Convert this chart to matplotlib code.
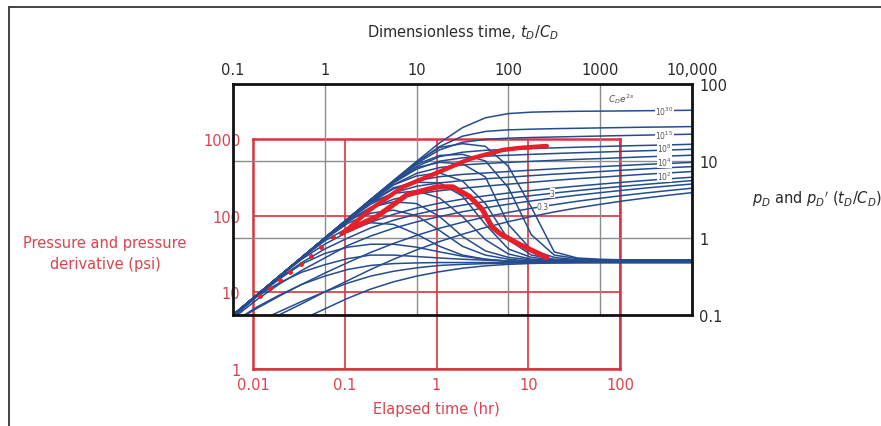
import matplotlib
matplotlib.use("Agg")
import matplotlib.pyplot as plt
from matplotlib.lines import Line2D
from matplotlib.ticker import NullLocator

# ---- type curves (dimensionless) on a quarter-decade grid ----
T_GRID = [0.1, 0.178, 0.316, 0.562, 1, 1.78, 3.16, 5.62, 10, 17.8, 31.6, 56.2,
          100, 178, 316, 562, 1000, 1780, 3160, 5620, 10000]

# pressure curves, C_D e^2s = 1e30 ... 0.1
P_1e30 = [0.1, 0.178, 0.316, 0.562, 1.0, 1.78, 3.16, 5.59, 9.89, 17.2, 27.1, 36.4, 41.3, 43.1, 43.8, 44.2, 44.45, 44.7, 45.0, 45.3, 45.6]
P_1e20 = [0.1, 0.178, 0.316, 0.562, 1.0, 1.78, 3.16, 5.56, 9.61, 15.4, 21.0, 24.2, 25.4, 25.9, 26.3, 26.6, 26.9, 27.2, 27.5, 27.7, 28.0]
P_1e15 = [0.1, 0.178, 0.316, 0.562, 1.0, 1.78, 3.15, 5.51, 9.28, 13.96, 17.5, 19.1, 19.8, 20.2, 20.5, 20.8, 21.1, 21.4, 21.7, 22.0, 22.3]
P_1e10 = [0.1, 0.178, 0.316, 0.562, 1.0, 1.77, 3.12, 5.36, 8.48, 11.4, 13.0, 13.77, 14.18, 14.5, 14.8, 15.1, 15.4, 15.7, 15.95, 16.2, 16.5]
P_1e8 = [0.1, 0.178, 0.316, 0.562, 1.0, 1.77, 3.10, 5.20, 7.85, 9.95, 11.0, 11.54, 11.89, 12.2, 12.5, 12.8, 13.05, 13.35, 13.6, 13.9, 14.2]
P_1e6 = [0.1, 0.178, 0.316, 0.562, 1.0, 1.76, 3.04, 4.92, 6.91, 8.22, 8.88, 9.29, 9.6, 9.9, 10.2, 10.5, 10.75, 11.05, 11.35, 11.6, 11.9]
P_1e4 = [0.1, 0.178, 0.316, 0.561, 0.993, 1.735, 2.90, 4.35, 5.55, 6.25, 6.70, 6.99, 7.3, 7.6, 7.9, 8.2, 8.45, 8.75, 9.05, 9.3, 9.6]
P_1e3 = [0.1, 0.178, 0.316, 0.560, 0.987, 1.70, 2.74, 3.87, 4.70, 5.2, 5.56, 5.87, 6.15, 6.45, 6.75, 7.0, 7.3, 7.6, 7.9, 8.2, 8.45]
P_1e2 = [0.1, 0.178, 0.315, 0.556, 0.969, 1.62, 2.44, 3.19, 3.73, 4.11, 4.42, 4.72, 5.0, 5.3, 5.6, 5.9, 6.15, 6.45, 6.75, 7.0, 7.3]
P_10 = [0.098, 0.175, 0.31, 0.53, 0.83, 1.2, 1.6, 2.03, 2.45, 2.84, 3.2, 3.53, 3.84, 4.14, 4.43, 4.72, 5.01, 5.3, 5.59, 5.87, 6.16]
P_3 = [0.097, 0.175, 0.3, 0.48, 0.72, 1.0, 1.35, 1.7, 2.04, 2.36, 2.67, 2.97, 3.26, 3.55, 3.84, 4.12, 4.41, 4.7, 4.98, 5.27, 5.56]
P_1 = [0.09, 0.155, 0.25, 0.38, 0.55, 0.8, 1.06, 1.34, 1.62, 1.9, 2.19, 2.47, 2.75, 3.03, 3.31, 3.6, 3.88, 4.17, 4.46, 4.74, 5.03]
P_03 = [0.08, 0.12, 0.175, 0.25, 0.35, 0.48, 0.65, 0.85, 1.08, 1.34, 1.6, 1.88, 2.15, 2.43, 2.71, 3.0, 3.28, 3.57, 3.85, 4.14, 4.43]
P_01 = [0.05, 0.07, 0.1, 0.14, 0.2, 0.28, 0.39, 0.53, 0.7, 0.9, 1.12, 1.37, 1.63, 1.9, 2.18, 2.46, 2.74, 3.03, 3.31, 3.6, 3.88]

# derivative curves, same order
D_1e30 = [0.1, 0.178, 0.316, 0.56, 1.0, 1.77, 3.14, 5.55, 9.6, 15.0, 16.8, 15.5, 8.5, 2.5, 0.66, 0.55, 0.53, 0.52, 0.52, 0.52, 0.52]
D_1e20 = [0.1, 0.178, 0.316, 0.56, 1.0, 1.77, 3.13, 5.5, 9.0, 11.8, 12.2, 10.0, 4.5, 1.1, 0.6, 0.54, 0.52, 0.52, 0.52, 0.52, 0.52]
D_1e15 = [0.1, 0.178, 0.316, 0.56, 1.0, 1.77, 3.1, 5.35, 8.2, 9.6, 9.2, 6.2, 1.5, 0.7, 0.56, 0.52, 0.52, 0.52, 0.52, 0.52, 0.52]
D_1e10 = [0.1, 0.178, 0.316, 0.56, 0.995, 1.76, 3.05, 4.9, 6.4, 7.0, 5.5, 2.8, 0.95, 0.6, 0.53, 0.51, 0.51, 0.51, 0.51, 0.51, 0.51]
D_1e8 = [0.1, 0.178, 0.316, 0.56, 0.997, 1.75, 2.98, 4.5, 5.3, 5.2, 3.5, 1.5, 0.72, 0.56, 0.52, 0.51, 0.51, 0.51, 0.51, 0.51, 0.51]
D_1e6 = [0.1, 0.178, 0.316, 0.56, 0.993, 1.72, 2.9, 3.8, 4.1, 3.3, 1.9, 0.95, 0.62, 0.53, 0.51, 0.51, 0.51, 0.51, 0.51, 0.51, 0.51]
D_1e4 = [0.1, 0.178, 0.316, 0.558, 0.98, 1.66, 2.5, 2.95, 2.8, 1.9, 1.05, 0.68, 0.56, 0.52, 0.5, 0.5, 0.5, 0.5, 0.5, 0.5, 0.5]
D_1e3 = [0.1, 0.178, 0.316, 0.554, 0.96, 1.55, 2.1, 2.3, 1.95, 1.25, 0.78, 0.6, 0.53, 0.5, 0.5, 0.5, 0.5, 0.5, 0.5, 0.5, 0.5]
D_1e2 = [0.1, 0.178, 0.312, 0.545, 0.92, 1.35, 1.58, 1.5, 1.12, 0.78, 0.6, 0.53, 0.5, 0.5, 0.5, 0.5, 0.5, 0.5, 0.5, 0.5, 0.5]
D_10 = [0.095, 0.17, 0.29, 0.46, 0.63, 0.76, 0.83, 0.83, 0.76, 0.66, 0.58, 0.53, 0.5, 0.49, 0.49, 0.49, 0.49, 0.49, 0.49, 0.49, 0.49]
D_3 = [0.093, 0.17, 0.26, 0.36, 0.45, 0.54, 0.6, 0.6, 0.575, 0.55, 0.53, 0.515, 0.5, 0.49, 0.49, 0.49, 0.49, 0.49, 0.49, 0.49, 0.49]
D_1 = [0.08, 0.125, 0.18, 0.25, 0.32, 0.39, 0.44, 0.465, 0.475, 0.48, 0.48, 0.48, 0.48, 0.48, 0.48, 0.48, 0.48, 0.48, 0.48, 0.48, 0.48]
D_03 = [0.06, 0.08, 0.11, 0.15, 0.2, 0.26, 0.32, 0.37, 0.41, 0.44, 0.455, 0.465, 0.472, 0.476, 0.478, 0.48, 0.48, 0.48, 0.48, 0.48, 0.48]
D_01 = [0.035, 0.045, 0.062, 0.087, 0.12, 0.165, 0.217, 0.27, 0.32, 0.365, 0.405, 0.435, 0.455, 0.467, 0.474, 0.478, 0.48, 0.48, 0.48, 0.48, 0.48]

PRESSURE = [P_1e30, P_1e20, P_1e15, P_1e10, P_1e8, P_1e6, P_1e4,
            P_1e3, P_1e2, P_10, P_3, P_1, P_03, P_01]
DERIV = [D_1e30, D_1e20, D_1e15, D_1e10, D_1e8, D_1e6, D_1e4,
         D_1e3, D_1e2, D_10, D_3, D_1, D_03, D_01]

# ---- field data (red), hours vs psi ----
dot_hr = [0.0119, 0.0153, 0.0197, 0.0253, 0.0333, 0.0428, 0.055, 0.0743]
dot_psi = [8.9, 11.3, 14.3, 18.2, 23.7, 30.1, 39.5, 53.4]
press_hr = [0.092, 0.106, 0.188, 0.43, 1.01, 2.31, 5.27, 8.0, 15.9]
press_psi = [58, 65.7, 119.5, 237, 362, 551, 719, 764, 811]
deriv_hr = [0.106, 0.224, 0.475, 1.01, 1.51, 2.31, 3.17, 4.0, 4.96, 8.1, 15.9]
deriv_psi = [64, 97.3, 187, 237, 237, 177, 119.5, 72, 58, 41.9, 28.5]

# ticks
dim_t_ticks = [0.1, 1, 10, 100, 1000, 10000]
dim_t_labels = ["0.1", "1", "10", "100", "1000", "10,000"]
dim_p_ticks = [0.1, 1, 10, 100]
dim_p_labels = ["0.1", "1", "10", "100"]
hr_ticks = [0.01, 0.1, 1, 10, 100]
hr_labels = ["0.01", "0.1", "1", "10", "100"]
psi_ticks = [1, 10, 100, 1000]
psi_labels = ["1", "10", "100", "1000"]

# curve labels: (text, t_D/C_D, p_D)
curve_tags = [(r"$10^{30}$", 5000, 45.3), (r"$10^{15}$", 5000, 22.0),
              (r"$10^{8}$", 5000, 15.0), (r"$10^{4}$", 5000, 9.9),
              (r"$10^{2}$", 5000, 6.5), ("3", 300, 3.84), ("0.3", 238, 2.57)]

BLUE = "#244c8e"
RED_DATA = "#e5202a"
RED_GRID = "#d8343e"
RED_TXT = "#d9434e"
INK = "#2a2a2a"

plt.rcParams["font.family"] = ["DejaVu Sans"]
plt.rcParams["mathtext.fontset"] = "dejavusans"

W, H = 881, 427


def box(x0, y0, x1, y1):
    return [x0 / W, 1 - y1 / H, (x1 - x0) / W, (y1 - y0) / H]


fig = plt.figure(figsize=(W / 100, H / 100), dpi=100)
fig.add_artist(Line2D([9 / W, 1], [1 - 8 / H, 1 - 8 / H], color="#444", lw=1.4))
fig.add_artist(Line2D([9 / W, 9 / W], [0, 1 - 8 / H], color="#444", lw=1.4))

# red (field units) grid, drawn underneath
axr = fig.add_axes(box(253, 140, 620, 370), zorder=1)
axr.set_facecolor("none")
axr.set_xscale("log")
axr.set_yscale("log")
axr.set_xlim(0.01, 100)
axr.set_ylim(1, 1000)
axr.set_xticks(hr_ticks)
axr.set_xticklabels(hr_labels)
axr.set_yticks(psi_ticks)
axr.set_yticklabels(psi_labels)
axr.xaxis.set_minor_locator(NullLocator())
axr.yaxis.set_minor_locator(NullLocator())
axr.tick_params(length=0, labelcolor=RED_TXT, labelsize=10.5)
axr.tick_params(axis="x", pad=6)
axr.tick_params(axis="y", pad=9)
axr.grid(True, color=RED_GRID, lw=1.2)
for s in axr.spines.values():
    s.set_color(RED_GRID)
    s.set_linewidth(1.8)
axr.set_xlabel("Elapsed time (hr)", color=RED_TXT, fontsize=10.5, labelpad=6)

# black dimensionless type-curve axes
axb = fig.add_axes(box(233, 85, 692, 316), zorder=2)
axb.set_facecolor("none")
axb.set_xscale("log")
axb.set_yscale("log")
axb.set_xlim(0.1, 10000)
axb.set_ylim(0.1, 100)
axb.xaxis.tick_top()
axb.yaxis.tick_right()
axb.set_xticks(dim_t_ticks)
axb.set_xticklabels(dim_t_labels)
axb.set_yticks(dim_p_ticks)
axb.set_yticklabels(dim_p_labels)
axb.xaxis.set_minor_locator(NullLocator())
axb.yaxis.set_minor_locator(NullLocator())
axb.tick_params(length=0, labelsize=10.5, labelcolor=INK, pad=5)
axb.grid(True, color="#8c8c8c", lw=1.0)
for s in axb.spines.values():
    s.set_color("#111")
    s.set_linewidth(2.0)

for vals in PRESSURE + DERIV:
    axb.plot(T_GRID, vals, color=BLUE, lw=1.1, solid_joinstyle="round")

for txt, tx, py in curve_tags:
    axb.text(tx, py, txt, fontsize=5.5, color="#555", ha="center", va="center",
             bbox=dict(facecolor="white", edgecolor="none", pad=0.1))
axb.text(1700, 66, r"$C_De^{2s}$", fontsize=6.5, color="#555", ha="center", va="center")

# red field data on top
axd = fig.add_axes(box(253, 140, 620, 370), zorder=3)
axd.set_xscale("log")
axd.set_yscale("log")
axd.set_xlim(0.01, 100)
axd.set_ylim(1, 1000)
axd.set_axis_off()
axd.plot(dot_hr, dot_psi, "o", color=RED_DATA, ms=3.5, mec="none")
axd.plot(press_hr, press_psi, color=RED_DATA, lw=3.2, solid_capstyle="round",
         solid_joinstyle="round")
axd.plot(deriv_hr, deriv_psi, color=RED_DATA, lw=3.8, solid_capstyle="round",
         solid_joinstyle="round")

fig.text(463 / W, 1 - 33 / H, r"Dimensionless time, $t_D/C_D$", ha="center",
         va="center", fontsize=10.5, color=INK)
fig.text(752 / W, 1 - 199 / H, r"$p_D$ and $p_D{}^{\prime}\ (t_D/C_D)$", ha="left",
         va="center", fontsize=10.5, color=INK)
fig.text(105 / W, 1 - 254 / H, "Pressure and pressure\nderivative (psi)",
         ha="center", va="center", fontsize=10.5, color=RED_TXT, linespacing=1.45)

fig.savefig("out.png", dpi=100)
